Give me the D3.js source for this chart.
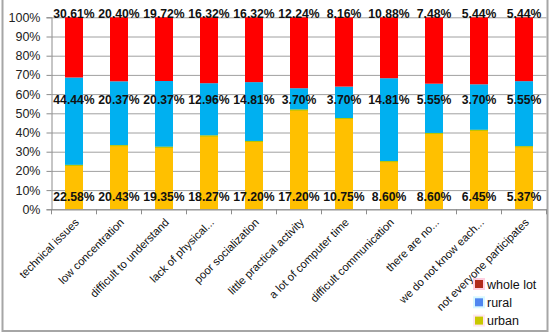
<!DOCTYPE html>
<html><head><meta charset="utf-8">
<script src="https://cdn.jsdelivr.net/npm/d3@7"></script>
<style>
html,body{margin:0;padding:0;background:#fff;}
svg{display:block;font-family:"Liberation Sans",Arial,sans-serif;}
</style></head><body>
<svg id="chart" width="550" height="334"></svg>
<script>
const categories = ["technical issues","low concentration","difficult to understand","lack of physical...","poor socialization","little practical activity","a lot of computer time","difficult communication","there are no...","we do not know each...","not everyone participates"];
const urban = [22.58,20.43,19.35,18.27,17.20,17.20,10.75,8.60,8.60,6.45,5.37];
const rural = [44.44,20.37,20.37,12.96,14.81,3.70,3.70,14.81,5.55,3.70,5.55];
const wholeLot = [30.61,20.40,19.72,16.32,16.32,12.24,8.16,10.88,7.48,5.44,5.44];
const seriesNames = ["urban","rural","whole lot"];
const yTicks = [0,0.1,0.2,0.3,0.4,0.5,0.6,0.7,0.8,0.9,1.0];

const barColors = {"urban":"#ffc000","rural":"#00b0f0","whole lot":"#ff0000"};
const legendColors = {"urban":"#c8c800","rural":"#4f86f0","whole lot":"#b02a1a"};
const legendHalo = {"urban":"#ffe6f0","rural":"#d8f8ff","whole lot":"#ffd0e0"};
const labelLevel = {"urban":0.064,"rural":0.57,"whole lot":1.018};

const rows = categories.map((c,i)=>({cat:c,"urban":urban[i],"rural":rural[i],"whole lot":wholeLot[i]}));
const svg = d3.select("#chart");
const pLeft = 51.5, pRight = 546.5, pTop = 17.3, pBottom = 209.3;

const x = d3.scaleBand().domain(categories).range([pLeft,pRight]).paddingInner(0.6).paddingOuter(0.3);
const y = d3.scaleLinear().domain([0,1]).range([pBottom,pTop]);

// outer border
svg.append("rect").attr("x",2.5).attr("y",-3).attr("width",545).attr("height",334)
  .attr("fill","none").attr("stroke","#a6a6a6").attr("stroke-width",2);

// gridlines
const grid = svg.append("g").attr("transform",`translate(${pLeft},0)`)
  .call(d3.axisLeft(y).tickValues(yTicks).tickSize(-(pRight-pLeft)).tickFormat(""));
grid.select(".domain").remove();
grid.selectAll("line").attr("stroke","#a0a0a0").attr("stroke-width",1);

// stacked bars
const stack = d3.stack().keys(seriesNames).offset(d3.stackOffsetExpand);
const stacked = stack(rows);
const bars = svg.append("g");
stacked.forEach(s=>{
  bars.append("g").attr("fill",barColors[s.key]).selectAll("rect").data(s).join("rect")
    .attr("x",d=>x(d.data.cat)).attr("width",x.bandwidth())
    .attr("y",d=>y(d[1])).attr("height",d=>y(d[0])-y(d[1]));
});
// thin greenish edge at top of urban segment
bars.append("g").selectAll("line").data(stacked[0]).join("line")
  .attr("x1",d=>x(d.data.cat)).attr("x2",d=>x(d.data.cat)+x.bandwidth())
  .attr("y1",d=>y(d[1])+0.5).attr("y2",d=>y(d[1])+0.5)
  .attr("stroke","#b5c400").attr("stroke-width",1);

// y axis
const yAxis = svg.append("g").attr("transform",`translate(${pLeft},0)`)
  .call(d3.axisLeft(y).tickValues(yTicks).tickSize(5).tickPadding(6).tickFormat(d3.format(".0%")));
yAxis.select(".domain").attr("stroke","#8c8c8c");
yAxis.selectAll("line").attr("stroke","#8c8c8c");
yAxis.selectAll("text").attr("font-size","12.5px").attr("fill","#222");

// x axis baseline and separators
const xAxis = svg.append("g").attr("transform",`translate(0,${pBottom})`)
  .call(d3.axisBottom(x).tickSize(0).tickPadding(0));
xAxis.select(".domain").attr("stroke","#8c8c8c");
xAxis.selectAll("text")
  .attr("font-size","11.2px").attr("fill","#111")
  .attr("text-anchor","end")
  .attr("transform","translate(3,11) rotate(-45)")
  .attr("dy","0.35em");
const bounds = d3.range(categories.length+1).map(i=>pLeft + i*x.step());
svg.append("g").selectAll("line").data(bounds).join("line")
  .attr("x1",d=>d).attr("x2",d=>d).attr("y1",pBottom).attr("y2",pBottom+5)
  .attr("stroke","#8c8c8c");

// data labels
const labels = svg.append("g").attr("font-weight","bold").attr("font-size","12.2px").attr("fill","#111").attr("text-anchor","middle");
seriesNames.forEach(k=>{
  labels.append("g").selectAll("text").data(rows).join("text")
    .attr("x",d=>x(d.cat)+x.bandwidth()/2)
    .attr("y",y(labelLevel[k]))
    .attr("dy","0.36em")
    .text(d=>d3.format(".2f")(d[k])+"%");
});

// legend
const legendOrder = ["whole lot","rural","urban"];
const lg = svg.append("g").attr("transform","translate(475,284)");
legendOrder.forEach((k,i)=>{
  const g = lg.append("g").attr("transform",`translate(0,${i*18.3})`);
  g.append("rect").attr("x",-2).attr("y",-6).attr("width",12).attr("height",12).attr("fill",legendHalo[k]);
  g.append("rect").attr("x",0).attr("y",-4).attr("width",8).attr("height",8).attr("fill",legendColors[k]);
  g.append("text").attr("x",12).attr("y",0).attr("dy","0.36em").attr("font-size","12.5px").attr("fill","#111").text(k);
});
</script>
</body></html>
